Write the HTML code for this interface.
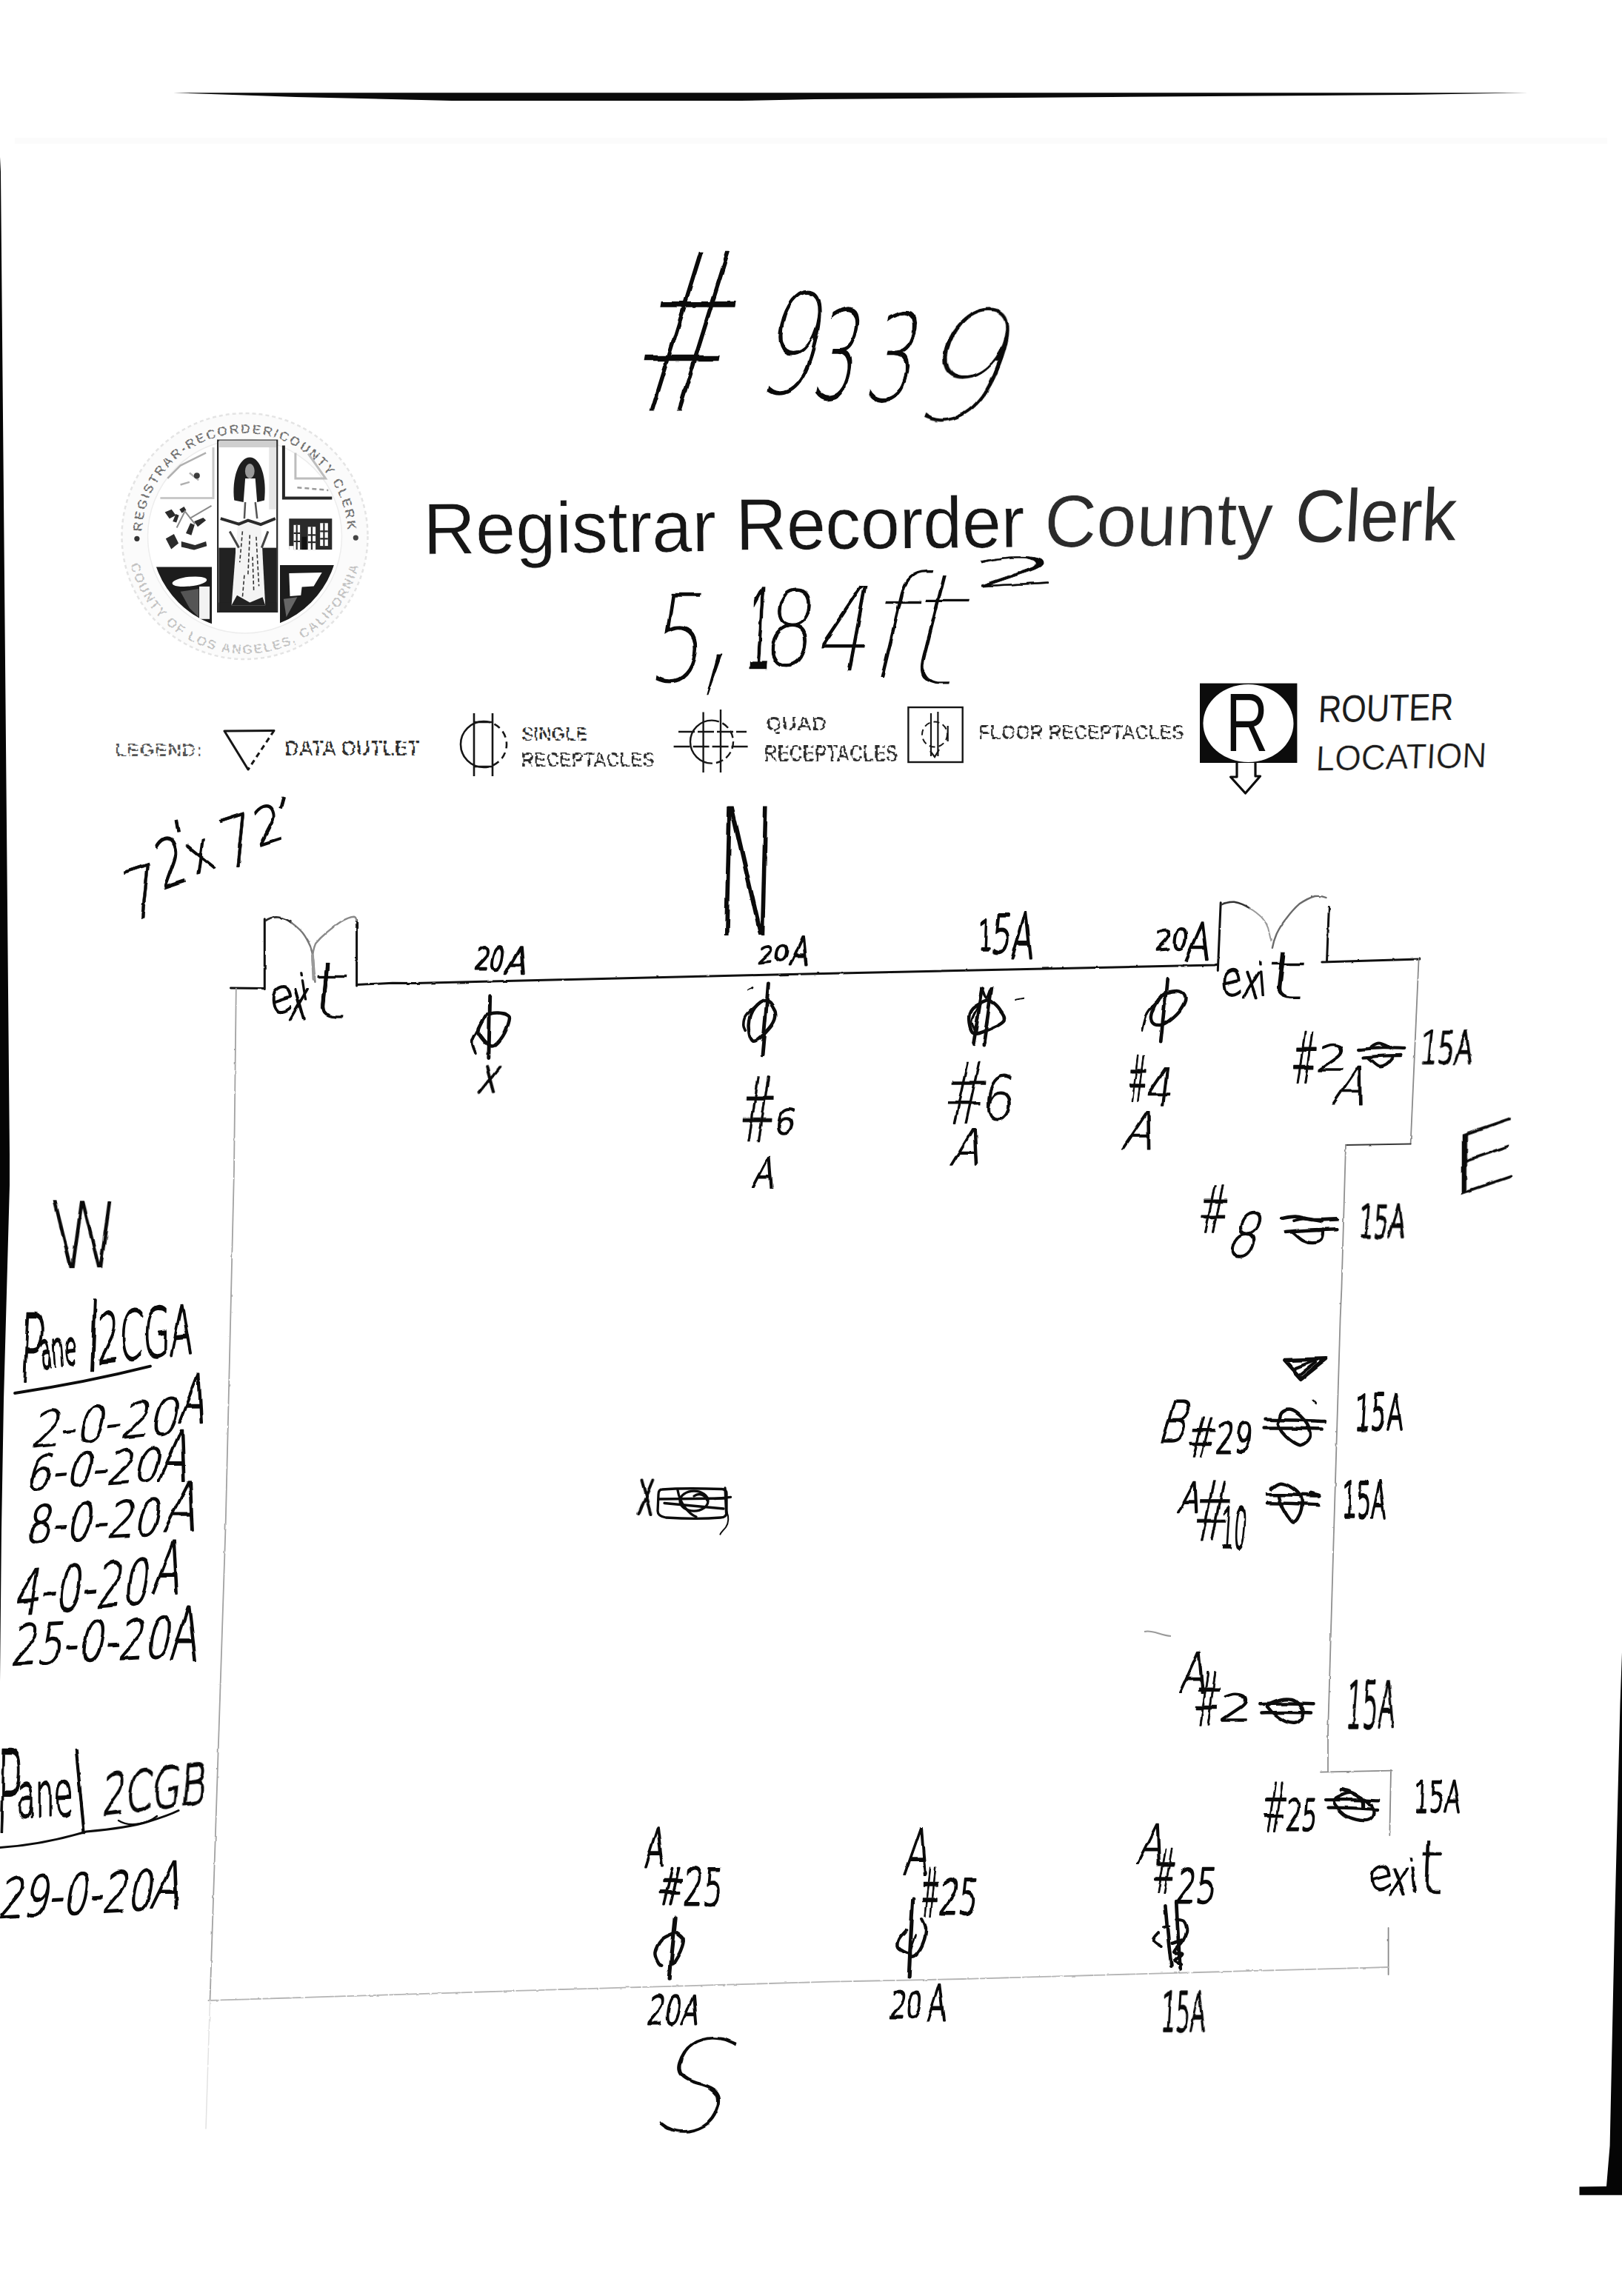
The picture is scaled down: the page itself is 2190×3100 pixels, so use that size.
<!DOCTYPE html>
<html lang="en">
<head>
<meta charset="utf-8">
<title>Registrar Recorder County Clerk - Floor Plan #9339</title>
<style>
html,body{margin:0;padding:0;background:#fff;}
body{width:2190px;height:3100px;overflow:hidden;}
svg{display:block;}
text{white-space:pre;}
</style>
</head>
<body>
<svg width="2190" height="3100" viewBox="0 0 2190 3100">
<rect x="0" y="0" width="2190" height="3100" fill="#ffffff"/>
<defs>
<filter id="wobble" filterUnits="userSpaceOnUse" x="0" y="0" width="2190" height="3100" color-interpolation-filters="sRGB"><feTurbulence type="fractalNoise" baseFrequency="0.035" numOctaves="2" seed="7" result="n"/><feDisplacementMap in="SourceGraphic" in2="n" scale="5" xChannelSelector="R" yChannelSelector="G"/></filter>
<filter id="pencil" filterUnits="userSpaceOnUse" x="0" y="0" width="2190" height="3100" color-interpolation-filters="sRGB"><feTurbulence type="fractalNoise" baseFrequency="0.09" numOctaves="2" seed="3" result="n"/><feDisplacementMap in="SourceGraphic" in2="n" scale="2.2" xChannelSelector="R" yChannelSelector="G"/></filter>
</defs>
<g id="scan-frame">
<path d="M234 125.2 L2063 125.2 L1900 128 L1500 131 L1100 134 L1000 136 L610 136 L400 131 L300 127.5 Z" fill="#0b0b0b"/>
<rect x="20" y="186" width="2150" height="8" fill="#fbfbfb"/>
<path d="M0 212 L1 232 L7.5 950 L13 1560 L13 1600 L5 1890 L2 2065 L0 2270 Z" fill="#050505"/>
<path d="M2190 2231 L2187.5 2300 L2180 2600 L2173.6 2897 L2169 2952 L2132.5 2952.6 L2132.5 2963.8 L2190 2963.8 Z" fill="#050505"/>
</g>
<g id="county-seal">
<circle cx="330.5" cy="724.0" r="166" fill="#fbfbfb" stroke="#e4e4e4" stroke-width="2.5" stroke-dasharray="5 4"/>
<circle cx="330.5" cy="724.0" r="131" fill="#ffffff" stroke="#ededed" stroke-width="1.5"/>
<defs><path id="sealTop" d="M191.5 724.0 A139.0 139.0 0 0 1 469.5 724.0"/><path id="sealBot" d="M171.5 724.0 A159 159 0 0 0 489.5 724.0"/></defs>
<text font-family="Liberation Sans, sans-serif" font-weight="700" font-size="17.5" fill="#4a4a4a" letter-spacing="2.3" opacity="0.78" stroke="#fff" stroke-width="1.1" stroke-dasharray="3 4 1.5 5"><textPath href="#sealTop" startOffset="50%" text-anchor="middle">REGISTRAR-RECORDER/COUNTY CLERK</textPath></text>
<text font-family="Liberation Sans, sans-serif" font-weight="700" font-size="17.5" fill="#b3b3b3" letter-spacing="2.2" opacity="0.8" stroke="#fff" stroke-width="1.1" stroke-dasharray="3 4 1.5 5"><textPath href="#sealBot" startOffset="50%" text-anchor="middle">COUNTY OF LOS ANGELES, CALIFORNIA</textPath></text>
<circle cx="184.9" cy="727.3" r="3.6" fill="#333"/>
<circle cx="480.3" cy="726.1" r="3.6" fill="#444"/>
<clipPath id="sealDisc"><circle cx="330.5" cy="724.0" r="126.5"/></clipPath>
<g clip-path="url(#sealDisc)">
<rect x="201.7" y="765.5" width="84.3" height="85.1" fill="#1c1c1c"/>
<rect x="378.0" y="763.0" width="82.6" height="87.5" fill="#1c1c1c"/>
</g>
<ellipse cx="255.9" cy="785.2" rx="23.4" ry="6.4" fill="#fff" transform="rotate(-6 255.9 785.2)"/>
<rect x="269.0" y="791.9" width="14.1" height="43.9" fill="#f2f2f2"/>
<polygon points="243.6,798.8 268.2,795.1 268.2,833.3 255.9,821.0" fill="#555"/>
<polygon points="390.3,774.1 434.7,772.9 423.6,791.4 407.6,792.6 406.3,803.7 391.5,805.0" fill="#fff"/>
<polygon points="382.9,808.7 401.4,806.2 386.6,833.3" fill="#666"/>
<rect x="294.1" y="594.6" width="80.1" height="231.3" fill="#fff" stroke="#2a2a2a" stroke-width="2.2"/>
<rect x="295.9" y="594.6" width="77.2" height="9.4" fill="#cfcfcf"/>
<rect x="363.2" y="604.0" width="9.9" height="83.8" fill="#e6e6e6"/>
<rect x="295.4" y="739.6" width="22.7" height="86.3" fill="#222"/>
<rect x="354.1" y="739.6" width="19.2" height="86.3" fill="#222"/>
<rect x="295.4" y="813.6" width="77.9" height="12.3" fill="#222"/>
<polygon points="321.3,702.6 352.1,702.6 358.2,817.3 312.6,817.3" fill="#f4f4f4"/>
<g stroke="#333" stroke-width="1.6" fill="none"><path d="M327.4 717.4 L323.7 759.3 M337.3 722.4 L334.8 776.6 M345.9 724.8 L349.6 791.4 M329.9 776.6 L327.4 806.2 M341.0 751.9 L342.7 798.8" stroke-dasharray="5 3"/></g>
<polygon points="312.6,817.3 358.2,817.3 354.5,806.2 337.3,813.6 320.0,803.7" fill="#222"/>
<path d="M297.8 700.2 L322.5 707.6 L334.8 702.6 L352.1 708.1 L371.8 700.2" stroke="#2a2a2a" stroke-width="4" fill="none"/>
<path d="M310.2 717.4 L322.5 739.6 M361.9 717.4 L353.3 739.6" stroke="#444" stroke-width="3" fill="none"/>
<path d="M316.3 675.5 C312.6 645.9 322.5 617.5 337.3 617.5 C352.1 617.5 360.7 645.9 357.0 675.5 L347.2 678.0 L344.7 645.9 L331.1 645.9 L328.7 678.0 Z" fill="#1e1e1e"/>
<ellipse cx="337.3" cy="636.0" rx="6.4" ry="9.9" fill="#9a9a9a"/>
<path d="M331.1 678.0 L329.9 700.2 M344.7 678.0 L347.2 700.2" stroke="#555" stroke-width="2.5"/>
<path d="M382.9 601.5 L382.9 672.5 L448.3 672.5" stroke="#262626" stroke-width="4" fill="none"/>
<path d="M398.9 611.4 L398.9 645.9 L439.6 645.9 L416.2 612.6" stroke="#bdbdbd" stroke-width="3" fill="none"/>
<path d="M401.4 658.2 L443.3 661.9" stroke="#9b9b9b" stroke-width="2.5" stroke-dasharray="6 4"/>
<path d="M216.4 672.5 L288.0 672.5 L288.0 604.0" stroke="#c9c9c9" stroke-width="3" fill="none"/>
<path d="M243.6 654.5 L255.9 650.8 M255.9 638.5 L268.2 648.4 M226.3 645.9 L243.6 628.6 L278.1 611.4" stroke="#8e8e8e" stroke-width="2.4" fill="none" opacity="0.7"/>
<circle cx="265.8" cy="642.2" r="4" fill="#3b3b3b"/>
<polygon points="222.6,691.5 231.7,687.8 237.4,695.7 228.8,700.2" fill="#2b2b2b"/>
<polygon points="223.8,727.3 234.9,721.1 241.1,733.5 231.2,741.6" fill="#2b2b2b"/>
<polygon points="244.8,731.0 263.3,735.9 278.1,731.0 279.3,737.2 262.1,742.6 244.8,738.4" fill="#2b2b2b"/>
<polygon points="251.0,719.9 257.1,706.3 262.8,708.8 258.4,722.8" fill="#2b2b2b"/>
<polygon points="262.1,703.9 274.4,698.9 278.1,702.6 267.0,711.3" fill="#2b2b2b"/>
<polygon points="233.2,703.9 237.4,694.0 241.6,695.7 238.2,705.6" fill="#2b2b2b"/>
<polygon points="242.3,687.8 248.5,684.1 251.5,689.1 245.5,692.8" fill="#2b2b2b"/>
<path d="M238.6 712.5 L249.7 690.3 L263.3 707.6 M255.9 700.2 L285.5 682.9" stroke="#8a8a8a" stroke-width="2" fill="none"/>
<rect x="390.3" y="700.2" width="58.0" height="41.9" fill="#2a2a2a"/>
<rect x="396.5" y="708.8" width="8.6" height="33.3" fill="#fff"/>
<rect x="415.7" y="711.3" width="10.4" height="30.8" fill="#fff"/>
<rect x="432.2" y="706.3" width="10.6" height="30.8" fill="#fff"/>
<rect x="407.6" y="724.8" width="6.7" height="17.3" fill="#111"/>
<g stroke="#2a2a2a" stroke-width="2.2"><path d="M396.5 719.9 H405.1 M396.5 731.0 H405.1 M415.7 722.4 H426.1 M415.7 732.2 H426.1 M432.2 717.4 H442.8 M432.2 727.3 H442.8 M400.7 708.8 V742.1 M420.9 711.3 V742.1 M437.4 706.3 V737.2"/></g>
<rect x="390.3" y="737.2" width="6.2" height="7.4" fill="#fff"/>
</g>
<g id="heading">
<g id="job-number" filter="url(#wobble)">
<text transform="translate(843.7,556.5) scale(1.641,3.049) skewX(-18)" font-family="DejaVu Sans Light, DejaVu Sans, sans-serif" font-weight="200" font-size="100" fill="#0a0a0a" stroke="#fff" stroke-width="3.29" vector-effect="non-scaling-stroke">#</text>
<text transform="translate(1018.3,532.1) scale(1.246,1.907) skewX(-20)" font-family="DejaVu Sans Light, DejaVu Sans, sans-serif" font-weight="200" font-size="100" fill="#0a0a0a" stroke="#fff" stroke-width="1.60" vector-effect="non-scaling-stroke">9</text>
<text transform="translate(1092.5,539.3) scale(0.912,1.682) skewX(-20)" font-family="DejaVu Sans Light, DejaVu Sans, sans-serif" font-weight="200" font-size="100" fill="#0a0a0a">3</text>
<text transform="translate(1163.5,541.3) scale(1.022,1.656) skewX(-20)" font-family="DejaVu Sans Light, DejaVu Sans, sans-serif" font-weight="200" font-size="100" fill="#0a0a0a" stroke="#fff" stroke-width="0.60" vector-effect="non-scaling-stroke">3</text>
<text transform="translate(1217.1,568.9) scale(1.953,2.079) skewX(-22)" font-family="DejaVu Sans Light, DejaVu Sans, sans-serif" font-weight="200" font-size="100" fill="#0a0a0a" stroke="#fff" stroke-width="3.99" vector-effect="non-scaling-stroke">9</text>
</g>
<g id="title">
<text transform="translate(571.8,748.2) rotate(-0.55) scale(0.975,0.984)" font-family="Liberation Sans, sans-serif" font-size="100" fill="#161616" stroke="#fff" stroke-width="0.68" vector-effect="non-scaling-stroke">Registrar</text>
<text transform="translate(993.7,742.4) rotate(-0.55) scale(0.948,0.986)" font-family="Liberation Sans, sans-serif" font-size="100" fill="#161616" stroke="#fff" stroke-width="0.44" vector-effect="non-scaling-stroke">Recorder</text>
<text transform="translate(1408.9,738.7) rotate(-0.7) scale(0.974,1.002) skewX(-3)" font-family="Liberation Sans, sans-serif" font-size="100" fill="#2b2b2b" stroke="#fff" stroke-width="0.67" vector-effect="non-scaling-stroke">County</text>
<text transform="translate(1747.2,731.9) rotate(-0.7) scale(0.933,1.001) skewX(-4)" font-family="Liberation Sans, sans-serif" font-size="100" fill="#2b2b2b">Clerk</text>
</g>
<g id="area" filter="url(#wobble)">
<text transform="translate(872.7,921.3) scale(1.188,1.662) skewX(-12)" font-family="DejaVu Sans Light, DejaVu Sans, sans-serif" font-weight="200" font-size="100" fill="#0a0a0a" stroke="#fff" stroke-width="1.35" vector-effect="non-scaling-stroke">5</text>
<text transform="translate(929.1,901.2) scale(2.442,3.529) skewX(-15)" font-family="DejaVu Sans Light, DejaVu Sans, sans-serif" font-weight="200" font-size="100" fill="#0a0a0a" stroke="#fff" stroke-width="6.99" vector-effect="non-scaling-stroke">,</text>
<text transform="translate(1006.7,903.8) scale(0.565,1.650) skewX(-10)" font-family="Liberation Sans, sans-serif" font-size="100" fill="#0a0a0a" stroke="#fff" stroke-width="0.97" vector-effect="non-scaling-stroke">1</text>
<text transform="translate(1027.7,898.6) scale(1.076,1.417) skewX(-10)" font-family="DejaVu Sans Light, DejaVu Sans, sans-serif" font-weight="200" font-size="100" fill="#0a0a0a" stroke="#fff" stroke-width="0.84" vector-effect="non-scaling-stroke">8</text>
<text transform="translate(1096.1,905.8) scale(1.187,1.586) skewX(-14)" font-family="DejaVu Sans Light, DejaVu Sans, sans-serif" font-weight="200" font-size="100" fill="#0a0a0a" stroke="#fff" stroke-width="1.34" vector-effect="non-scaling-stroke">4</text>
<text transform="translate(1161.3,917.0) scale(1.885,1.960) skewX(-14)" font-family="DejaVu Sans Light, DejaVu Sans, sans-serif" font-weight="200" font-size="100" fill="#0a0a0a" stroke="#fff" stroke-width="3.98" vector-effect="non-scaling-stroke">f</text>
<text transform="translate(1207.3,926.1) scale(2.200,2.171) skewX(-14)" font-family="DejaVu Sans Light, DejaVu Sans, sans-serif" font-weight="200" font-size="100" fill="#0a0a0a" stroke="#fff" stroke-width="5.27" vector-effect="non-scaling-stroke">t</text>
<text transform="translate(1312.8,793.0) rotate(-3) scale(1.913,0.522)" font-family="DejaVu Sans Light, DejaVu Sans, sans-serif" font-weight="200" font-size="100" fill="#0a0a0a" stroke="#0a0a0a" stroke-width="1.45" stroke-linejoin="round" vector-effect="non-scaling-stroke">2</text>
</g>
</g>
<g id="legend">
<text transform="translate(155.3,1021.4) scale(0.261,0.234)" font-family="Liberation Sans, sans-serif" font-weight="700" font-size="100" fill="#555" stroke="#fff" stroke-width="3.0" stroke-dasharray="4 9 2 12 7 8" vector-effect="non-scaling-stroke">LEGEND:</text>
<path d="M303 987 L370 986.4 M303 987 L335 1039" stroke="#161616" stroke-width="3" stroke-linecap="round" fill="none"/>
<path d="M370 986.4 L335 1039" stroke="#161616" stroke-width="3" stroke-dasharray="7 5" fill="none"/>
<text transform="translate(384.3,1019.9) scale(0.265,0.298)" font-family="Liberation Sans, sans-serif" font-weight="700" font-size="100" fill="#2e2e2e" stroke="#fff" stroke-width="3.0" stroke-dasharray="4 9 2 12 7 8" vector-effect="non-scaling-stroke">DATA OUTLET</text>
<g stroke="#161616" stroke-width="2.6" fill="none">
<path d="M653 974 A31 31 0 0 0 653 1036"/>
<path d="M653 974 A31 31 0 0 1 653 1036" stroke-dasharray="9 6"/>
<path d="M640 963 V1048 M665 963 V1048 M640 1035 H665 M640 975 H665"/>
</g>
<text transform="translate(704.3,999.9) scale(0.241,0.261)" font-family="Liberation Sans, sans-serif" font-weight="700" font-size="100" fill="#2e2e2e" stroke="#fff" stroke-width="3.0" stroke-dasharray="4 9 2 12 7 8" vector-effect="non-scaling-stroke">SINGLE</text>
<text transform="translate(703.4,1034.9) scale(0.245,0.284)" font-family="Liberation Sans, sans-serif" font-weight="700" font-size="100" fill="#2e2e2e" stroke="#fff" stroke-width="3.0" stroke-dasharray="4 9 2 12 7 8" vector-effect="non-scaling-stroke">RECEPTACLES</text>
<g stroke="#161616" stroke-width="2.4" fill="none">
<path d="M961 972.6 A29 29 0 0 0 961 1030.6"/>
<path d="M961 972.6 A29 29 0 0 1 961 1030.6" stroke-dasharray="10 5"/>
<path d="M949.6 961.6 V1043 M973 958 V1043"/>
<path d="M916 988 H1008 M909.6 1008 H1011" stroke-dasharray="22 4"/>
</g>
<text transform="translate(1033.9,986.1) scale(0.280,0.258)" font-family="Liberation Sans, sans-serif" font-weight="700" font-size="100" fill="#2e2e2e" stroke="#fff" stroke-width="3.0" stroke-dasharray="4 9 2 12 7 8" vector-effect="non-scaling-stroke">QUAD</text>
<text transform="translate(1031.4,1027.8) scale(0.246,0.305)" font-family="Liberation Sans, sans-serif" font-weight="700" font-size="100" fill="#2e2e2e" stroke="#fff" stroke-width="3.0" stroke-dasharray="4 9 2 12 7 8" vector-effect="non-scaling-stroke">RECEPTACLES</text>
<g stroke="#161616" fill="none">
<rect x="1226.4" y="955" width="73.3" height="74" stroke-width="2.4"/>
<circle cx="1262" cy="991.6" r="17" stroke-width="2" stroke-dasharray="8 5"/>
<path d="M1257 963 V1021 M1266.4 961 V1021 M1279.7 980 V1001" stroke-width="2.2"/>
<path d="M1256 1014 L1262 1022 L1268 1012" stroke-width="2.2"/>
</g>
<text transform="translate(1321.4,997.9) scale(0.249,0.284)" font-family="Liberation Sans, sans-serif" font-weight="700" font-size="100" fill="#2e2e2e" stroke="#fff" stroke-width="3.0" stroke-dasharray="4 9 2 12 7 8" vector-effect="non-scaling-stroke">FLOOR RECEPTACLES</text>
<g id="router-icon">
<rect x="1620" y="922.6" width="131.4" height="107.4" fill="#0c0c0c"/>
<ellipse cx="1685.5" cy="976.5" rx="61" ry="52.5" fill="#fff"/>
<path d="M1670 1030 V1049 H1661.5 L1681.5 1071 L1701.5 1048 H1695 V1030" fill="#fff" stroke="#0c0c0c" stroke-width="3.2" stroke-linejoin="round"/>
<text transform="translate(1655.2,1013.6) scale(0.788,1.115)" font-family="Liberation Sans, sans-serif" font-size="100" fill="#0c0c0c">R</text>
</g>
<text transform="translate(1779.4,975.3) rotate(-1.1) scale(0.432,0.513) skewX(-4)" font-family="Liberation Sans, sans-serif" font-size="100" fill="#1c1c1c">ROUTER</text>
<text transform="translate(1776.0,1040.4) rotate(-1.1) scale(0.458,0.478) skewX(-4)" font-family="Liberation Sans, sans-serif" font-size="100" fill="#1c1c1c" stroke="#fff" stroke-width="0.43" vector-effect="non-scaling-stroke">LOCATION</text>
</g>
<g id="handwritten-labels" filter="url(#wobble)">
<g id="dimension-note">
<text transform="translate(174.3,1245.7) rotate(-18) scale(0.799,0.940) skewX(-8)" font-family="DejaVu Sans Light, DejaVu Sans, sans-serif" font-weight="200" font-size="100" fill="#0a0a0a" stroke="#0a0a0a" stroke-width="0.60" stroke-linejoin="round" vector-effect="non-scaling-stroke">7</text>
<text transform="translate(218.3,1201.8) rotate(-18) scale(0.629,0.898) skewX(-8)" font-family="DejaVu Sans Light, DejaVu Sans, sans-serif" font-weight="200" font-size="100" fill="#0a0a0a" stroke="#0a0a0a" stroke-width="1.37" stroke-linejoin="round" vector-effect="non-scaling-stroke">2</text>
<text transform="translate(235.3,1152.5) rotate(-10) scale(0.752,0.591)" font-family="DejaVu Sans Light, DejaVu Sans, sans-serif" font-weight="200" font-size="100" fill="#0a0a0a" stroke="#0a0a0a" stroke-width="0.94" stroke-linejoin="round" vector-effect="non-scaling-stroke">'</text>
<text transform="translate(263.1,1183.0) rotate(-22) scale(0.577,0.770)" font-family="DejaVu Sans Light, DejaVu Sans, sans-serif" font-weight="200" font-size="100" fill="#0a0a0a" stroke="#0a0a0a" stroke-width="1.60" stroke-linejoin="round" vector-effect="non-scaling-stroke">x</text>
<text transform="translate(302.9,1175.5) rotate(-18) scale(0.782,0.920) skewX(-8)" font-family="DejaVu Sans Light, DejaVu Sans, sans-serif" font-weight="200" font-size="100" fill="#0a0a0a" stroke="#0a0a0a" stroke-width="0.68" stroke-linejoin="round" vector-effect="non-scaling-stroke">7</text>
<text transform="translate(348.0,1143.3) rotate(-18) scale(0.615,0.683) skewX(-8)" font-family="DejaVu Sans Light, DejaVu Sans, sans-serif" font-weight="200" font-size="100" fill="#0a0a0a" stroke="#0a0a0a" stroke-width="1.43" stroke-linejoin="round" vector-effect="non-scaling-stroke">2</text>
<text transform="translate(362.5,1113.1) rotate(15) scale(0.733,0.556)" font-family="DejaVu Sans Light, DejaVu Sans, sans-serif" font-weight="200" font-size="100" fill="#0a0a0a" stroke="#0a0a0a" stroke-width="1.10" stroke-linejoin="round" vector-effect="non-scaling-stroke">'</text>
</g>
<text transform="translate(964.0,1262.7) scale(1.146,2.393) skewX(-3)" font-family="DejaVu Sans Light, DejaVu Sans, sans-serif" font-weight="200" font-size="100" fill="#0a0a0a">N</text>
<text transform="translate(1953.6,1620.3) rotate(-19) scale(1.712,1.071) skewX(-12.2)" font-family="DejaVu Sans Light, DejaVu Sans, sans-serif" font-weight="200" font-size="100" fill="#0a0a0a" stroke="#fff" stroke-width="0.62" vector-effect="non-scaling-stroke">E</text>
<text transform="translate(869.6,2879.2) scale(1.684,1.762) skewX(-18)" font-family="DejaVu Sans Light, DejaVu Sans, sans-serif" font-weight="200" font-size="100" fill="#0a0a0a" stroke="#fff" stroke-width="3.38" vector-effect="non-scaling-stroke">S</text>
<text transform="translate(69.8,1712.1) scale(0.955,1.240) skewX(4)" font-family="DejaVu Sans Light, DejaVu Sans, sans-serif" font-weight="200" font-size="100" fill="#0a0a0a">W</text>
<text transform="translate(366.0,1371.5) rotate(-18) scale(0.564,0.594) skewX(-10)" font-family="DejaVu Sans Light, DejaVu Sans, sans-serif" font-weight="200" font-size="100" fill="#0a0a0a" stroke="#0a0a0a" stroke-width="1.66" stroke-linejoin="round" vector-effect="non-scaling-stroke">e</text>
<text transform="translate(388.2,1376.4) scale(0.424,0.741) skewX(-14)" font-family="DejaVu Sans Light, DejaVu Sans, sans-serif" font-weight="200" font-size="100" fill="#0a0a0a" stroke="#0a0a0a" stroke-width="2.29" stroke-linejoin="round" vector-effect="non-scaling-stroke">x</text>
<text transform="translate(408.4,1350.2) scale(0.300,0.477) skewX(14)" font-family="DejaVu Sans Light, DejaVu Sans, sans-serif" font-weight="200" font-size="100" fill="#0a0a0a" stroke="#0a0a0a" stroke-width="2.65" stroke-linejoin="round" vector-effect="non-scaling-stroke">i</text>
<text transform="translate(416.2,1374.5) scale(1.369,1.071) skewX(-4)" font-family="DejaVu Sans Light, DejaVu Sans, sans-serif" font-weight="200" font-size="100" fill="#0a0a0a" stroke="#fff" stroke-width="0.62" vector-effect="non-scaling-stroke">t</text>
<text transform="translate(1649.8,1347.2) rotate(-12) scale(0.496,0.620) skewX(-10)" font-family="DejaVu Sans Light, DejaVu Sans, sans-serif" font-weight="200" font-size="100" fill="#0a0a0a" stroke="#0a0a0a" stroke-width="1.77" stroke-linejoin="round" vector-effect="non-scaling-stroke">e</text>
<text transform="translate(1675.6,1347.0) scale(0.398,0.637) skewX(-12)" font-family="DejaVu Sans Light, DejaVu Sans, sans-serif" font-weight="200" font-size="100" fill="#0a0a0a" stroke="#0a0a0a" stroke-width="2.21" stroke-linejoin="round" vector-effect="non-scaling-stroke">x</text>
<text transform="translate(1699.2,1343.3) scale(0.442,0.596) skewX(6)" font-family="DejaVu Sans Light, DejaVu Sans, sans-serif" font-weight="200" font-size="100" fill="#0a0a0a" stroke="#0a0a0a" stroke-width="1.81" stroke-linejoin="round" vector-effect="non-scaling-stroke">i</text>
<text transform="translate(1705.5,1349.0) scale(1.441,0.900) skewX(-4)" font-family="DejaVu Sans Light, DejaVu Sans, sans-serif" font-weight="200" font-size="100" fill="#0a0a0a">t</text>
<text transform="translate(1849.3,2555.3) rotate(-15) scale(0.565,0.565) skewX(-8)" font-family="DejaVu Sans Light, DejaVu Sans, sans-serif" font-weight="200" font-size="100" fill="#0a0a0a" stroke="#0a0a0a" stroke-width="1.66" stroke-linejoin="round" vector-effect="non-scaling-stroke">e</text>
<text transform="translate(1874.0,2557.9) scale(0.425,0.641) skewX(-10)" font-family="DejaVu Sans Light, DejaVu Sans, sans-serif" font-weight="200" font-size="100" fill="#0a0a0a" stroke="#0a0a0a" stroke-width="2.29" stroke-linejoin="round" vector-effect="non-scaling-stroke">x</text>
<text transform="translate(1901.7,2554.0) scale(0.603,0.605) skewX(6)" font-family="DejaVu Sans Light, DejaVu Sans, sans-serif" font-weight="200" font-size="100" fill="#0a0a0a" stroke="#0a0a0a" stroke-width="1.49" stroke-linejoin="round" vector-effect="non-scaling-stroke">i</text>
<text transform="translate(1914.6,2555.7) scale(0.837,1.003) skewX(-3)" font-family="DejaVu Sans Light, DejaVu Sans, sans-serif" font-weight="200" font-size="100" fill="#0a0a0a" stroke="#0a0a0a" stroke-width="0.63" stroke-linejoin="round" vector-effect="non-scaling-stroke">t</text>
<text transform="translate(639.8,1308.6) scale(0.310,0.411) skewX(-14)" font-family="DejaVu Sans Light, DejaVu Sans, sans-serif" font-weight="200" font-size="100" fill="#0a0a0a" stroke="#0a0a0a" stroke-width="2.80" stroke-linejoin="round" vector-effect="non-scaling-stroke">20</text>
<text transform="translate(679.6,1314.6) scale(0.433,0.501) skewX(-16)" font-family="DejaVu Sans Light, DejaVu Sans, sans-serif" font-weight="200" font-size="100" fill="#0a0a0a" stroke="#0a0a0a" stroke-width="2.45" stroke-linejoin="round" vector-effect="non-scaling-stroke">A</text>
<text transform="translate(1023.7,1300.4) rotate(-6) scale(0.322,0.292) skewX(-12)" font-family="DejaVu Sans Light, DejaVu Sans, sans-serif" font-weight="200" font-size="100" fill="#0a0a0a" stroke="#0a0a0a" stroke-width="2.69" stroke-linejoin="round" vector-effect="non-scaling-stroke">20</text>
<text transform="translate(1064.8,1303.3) scale(0.380,0.527) skewX(-14)" font-family="DejaVu Sans Light, DejaVu Sans, sans-serif" font-weight="200" font-size="100" fill="#0a0a0a" stroke="#0a0a0a" stroke-width="2.69" stroke-linejoin="round" vector-effect="non-scaling-stroke">A</text>
<text transform="translate(1319.9,1282.3) scale(0.302,0.552) skewX(-4)" font-family="DejaVu Sans Light, DejaVu Sans, sans-serif" font-weight="200" font-size="100" fill="#0a0a0a" stroke="#0a0a0a" stroke-width="2.84" stroke-linejoin="round" vector-effect="non-scaling-stroke">1</text>
<text transform="translate(1336.7,1287.0) scale(0.423,0.720) skewX(-10)" font-family="DejaVu Sans Light, DejaVu Sans, sans-serif" font-weight="200" font-size="100" fill="#0a0a0a" stroke="#0a0a0a" stroke-width="2.30" stroke-linejoin="round" vector-effect="non-scaling-stroke">5</text>
<text transform="translate(1364.1,1294.4) scale(0.447,0.869) skewX(-10)" font-family="DejaVu Sans Light, DejaVu Sans, sans-serif" font-weight="200" font-size="100" fill="#0a0a0a" stroke="#0a0a0a" stroke-width="2.59" stroke-linejoin="round" vector-effect="non-scaling-stroke">A</text>
<text transform="translate(1559.5,1283.6) rotate(-4) scale(0.348,0.372) skewX(-10)" font-family="DejaVu Sans Light, DejaVu Sans, sans-serif" font-weight="200" font-size="100" fill="#0a0a0a" stroke="#0a0a0a" stroke-width="2.63" stroke-linejoin="round" vector-effect="non-scaling-stroke">20</text>
<text transform="translate(1598.0,1297.0) scale(0.505,0.705) skewX(-12)" font-family="DejaVu Sans Light, DejaVu Sans, sans-serif" font-weight="200" font-size="100" fill="#0a0a0a" stroke="#0a0a0a" stroke-width="2.33" stroke-linejoin="round" vector-effect="non-scaling-stroke">A</text>
<text transform="translate(644.4,1474.7) scale(0.364,0.462) skewX(-18)" font-family="DejaVu Sans Light, DejaVu Sans, sans-serif" font-weight="200" font-size="100" fill="#0a0a0a" stroke="#0a0a0a" stroke-width="2.56" stroke-linejoin="round" vector-effect="non-scaling-stroke">X</text>
<text transform="translate(997.5,1541.6) scale(0.608,1.231) skewX(-3)" font-family="DejaVu Sans Light, DejaVu Sans, sans-serif" font-weight="200" font-size="100" fill="#0a0a0a" stroke="#0a0a0a" stroke-width="0.56" stroke-linejoin="round" vector-effect="non-scaling-stroke">#</text>
<text transform="translate(1043.5,1531.0) scale(0.449,0.470) skewX(-10)" font-family="DejaVu Sans Light, DejaVu Sans, sans-serif" font-weight="200" font-size="100" fill="#0a0a0a" stroke="#0a0a0a" stroke-width="2.18" stroke-linejoin="round" vector-effect="non-scaling-stroke">6</text>
<text transform="translate(1014.6,1603.0) scale(0.433,0.552) skewX(-16)" font-family="DejaVu Sans Light, DejaVu Sans, sans-serif" font-weight="200" font-size="100" fill="#0a0a0a" stroke="#0a0a0a" stroke-width="2.05" stroke-linejoin="round" vector-effect="non-scaling-stroke">A</text>
<text transform="translate(1272.8,1516.6) scale(0.709,1.161) skewX(-6)" font-family="DejaVu Sans Light, DejaVu Sans, sans-serif" font-weight="200" font-size="100" fill="#0a0a0a">#</text>
<text transform="translate(1323.4,1512.2) scale(0.698,0.821) skewX(-8)" font-family="DejaVu Sans Light, DejaVu Sans, sans-serif" font-weight="200" font-size="100" fill="#0a0a0a" stroke="#0a0a0a" stroke-width="0.86" stroke-linejoin="round" vector-effect="non-scaling-stroke">6</text>
<text transform="translate(1281.1,1573.3) scale(0.595,0.690) skewX(-18)" font-family="DejaVu Sans Light, DejaVu Sans, sans-serif" font-weight="200" font-size="100" fill="#0a0a0a" stroke="#0a0a0a" stroke-width="1.32" stroke-linejoin="round" vector-effect="non-scaling-stroke">A</text>
<text transform="translate(1521.6,1486.4) scale(0.339,0.839) skewX(-3)" font-family="DejaVu Sans Light, DejaVu Sans, sans-serif" font-weight="200" font-size="100" fill="#0a0a0a" stroke="#0a0a0a" stroke-width="1.58" stroke-linejoin="round" vector-effect="non-scaling-stroke">#</text>
<text transform="translate(1544.8,1493.3) scale(0.594,0.690) skewX(-8)" font-family="DejaVu Sans Light, DejaVu Sans, sans-serif" font-weight="200" font-size="100" fill="#0a0a0a" stroke="#0a0a0a" stroke-width="1.33" stroke-linejoin="round" vector-effect="non-scaling-stroke">4</text>
<text transform="translate(1512.5,1551.3) scale(0.620,0.690) skewX(-20)" font-family="DejaVu Sans Light, DejaVu Sans, sans-serif" font-weight="200" font-size="100" fill="#0a0a0a" stroke="#0a0a0a" stroke-width="1.21" stroke-linejoin="round" vector-effect="non-scaling-stroke">A</text>
<text transform="translate(1742.5,1463.5) scale(0.436,0.979) skewX(-4)" font-family="DejaVu Sans Light, DejaVu Sans, sans-serif" font-weight="200" font-size="100" fill="#0a0a0a" stroke="#0a0a0a" stroke-width="1.54" stroke-linejoin="round" vector-effect="non-scaling-stroke">#</text>
<text transform="translate(1776.8,1446.2) scale(0.646,0.491) skewX(-6)" font-family="DejaVu Sans Light, DejaVu Sans, sans-serif" font-weight="200" font-size="100" fill="#0a0a0a" stroke="#0a0a0a" stroke-width="1.79" stroke-linejoin="round" vector-effect="non-scaling-stroke">2</text>
<text transform="translate(1795.9,1491.4) scale(0.648,0.708) skewX(-20)" font-family="DejaVu Sans Light, DejaVu Sans, sans-serif" font-weight="200" font-size="100" fill="#0a0a0a" stroke="#0a0a0a" stroke-width="1.08" stroke-linejoin="round" vector-effect="non-scaling-stroke">A</text>
<text transform="translate(1915.5,1435.4) scale(0.367,0.608) skewX(-10)" font-family="DejaVu Sans Light, DejaVu Sans, sans-serif" font-weight="200" font-size="100" fill="#0a0a0a" stroke="#0a0a0a" stroke-width="2.35" stroke-linejoin="round" vector-effect="non-scaling-stroke">15A</text>
<text transform="translate(1616.7,1664.4) scale(0.494,0.881) skewX(-6)" font-family="DejaVu Sans Light, DejaVu Sans, sans-serif" font-weight="200" font-size="100" fill="#0a0a0a" stroke="#0a0a0a" stroke-width="1.08" stroke-linejoin="round" vector-effect="non-scaling-stroke">#</text>
<text transform="translate(1653.4,1696.9) scale(0.629,0.817) skewX(-22)" font-family="DejaVu Sans Light, DejaVu Sans, sans-serif" font-weight="200" font-size="100" fill="#0a0a0a" stroke="#0a0a0a" stroke-width="1.17" stroke-linejoin="round" vector-effect="non-scaling-stroke">8</text>
<text transform="translate(1833.2,1670.4) scale(0.320,0.608) skewX(-8)" font-family="DejaVu Sans Light, DejaVu Sans, sans-serif" font-weight="200" font-size="100" fill="#0a0a0a" stroke="#0a0a0a" stroke-width="2.56" stroke-linejoin="round" vector-effect="non-scaling-stroke">15A</text>
<text transform="translate(1560.7,1946.9) scale(0.576,0.779) skewX(-22)" font-family="DejaVu Sans Light, DejaVu Sans, sans-serif" font-weight="200" font-size="100" fill="#0a0a0a" stroke="#0a0a0a" stroke-width="1.41" stroke-linejoin="round" vector-effect="non-scaling-stroke">B</text>
<text transform="translate(1601.2,1966.8) scale(0.460,0.747) skewX(-10)" font-family="DejaVu Sans Light, DejaVu Sans, sans-serif" font-weight="200" font-size="100" fill="#0a0a0a" stroke="#0a0a0a" stroke-width="1.43" stroke-linejoin="round" vector-effect="non-scaling-stroke">#</text>
<text transform="translate(1640.3,1960.8) scale(0.379,0.551) skewX(-10)" font-family="DejaVu Sans Light, DejaVu Sans, sans-serif" font-weight="200" font-size="100" fill="#0a0a0a" stroke="#0a0a0a" stroke-width="2.50" stroke-linejoin="round" vector-effect="non-scaling-stroke">29</text>
<text transform="translate(1827.9,1930.8) scale(0.339,0.676) skewX(-6)" font-family="DejaVu Sans Light, DejaVu Sans, sans-serif" font-weight="200" font-size="100" fill="#0a0a0a" stroke="#0a0a0a" stroke-width="2.68" stroke-linejoin="round" vector-effect="non-scaling-stroke">15A</text>
<text transform="translate(1588.6,2043.3) scale(0.430,0.579) skewX(-18)" font-family="DejaVu Sans Light, DejaVu Sans, sans-serif" font-weight="200" font-size="100" fill="#0a0a0a" stroke="#0a0a0a" stroke-width="2.07" stroke-linejoin="round" vector-effect="non-scaling-stroke">A</text>
<text transform="translate(1608.7,2080.2) scale(0.635,1.117) skewX(-6)" font-family="DejaVu Sans Light, DejaVu Sans, sans-serif" font-weight="200" font-size="100" fill="#0a0a0a" stroke="#0a0a0a" stroke-width="0.64" stroke-linejoin="round" vector-effect="non-scaling-stroke">#</text>
<text transform="translate(1647.4,2090.2) scale(0.271,0.768) skewX(-10)" font-family="DejaVu Sans Light, DejaVu Sans, sans-serif" font-weight="200" font-size="100" fill="#0a0a0a" stroke="#0a0a0a" stroke-width="2.78" stroke-linejoin="round" vector-effect="non-scaling-stroke">10</text>
<text transform="translate(1811.3,2049.0) scale(0.311,0.676) skewX(-4)" font-family="DejaVu Sans Light, DejaVu Sans, sans-serif" font-weight="200" font-size="100" fill="#0a0a0a" stroke="#0a0a0a" stroke-width="2.80" stroke-linejoin="round" vector-effect="non-scaling-stroke">15A</text>
<text transform="translate(1589.9,2286.4) scale(0.542,0.759) skewX(-14)" font-family="DejaVu Sans Light, DejaVu Sans, sans-serif" font-weight="200" font-size="100" fill="#0a0a0a" stroke="#0a0a0a" stroke-width="1.56" stroke-linejoin="round" vector-effect="non-scaling-stroke">A</text>
<text transform="translate(1611.1,2329.5) scale(0.454,1.021) skewX(-3)" font-family="DejaVu Sans Light, DejaVu Sans, sans-serif" font-weight="200" font-size="100" fill="#0a0a0a" stroke="#0a0a0a" stroke-width="1.26" stroke-linejoin="round" vector-effect="non-scaling-stroke">#</text>
<text transform="translate(1645.1,2322.9) scale(0.703,0.496) skewX(-4)" font-family="DejaVu Sans Light, DejaVu Sans, sans-serif" font-weight="200" font-size="100" fill="#0a0a0a" stroke="#0a0a0a" stroke-width="1.77" stroke-linejoin="round" vector-effect="non-scaling-stroke">2</text>
<text transform="translate(1815.9,2331.8) scale(0.339,0.861) skewX(-10)" font-family="DejaVu Sans Light, DejaVu Sans, sans-serif" font-weight="200" font-size="100" fill="#0a0a0a" stroke="#0a0a0a" stroke-width="2.68" stroke-linejoin="round" vector-effect="non-scaling-stroke">15A</text>
<text transform="translate(1702.6,2473.5) scale(0.429,0.930) skewX(-4)" font-family="DejaVu Sans Light, DejaVu Sans, sans-serif" font-weight="200" font-size="100" fill="#0a0a0a" stroke="#0a0a0a" stroke-width="1.37" stroke-linejoin="round" vector-effect="non-scaling-stroke">#</text>
<text transform="translate(1735.2,2470.9) scale(0.327,0.576) skewX(-8)" font-family="DejaVu Sans Light, DejaVu Sans, sans-serif" font-weight="200" font-size="100" fill="#0a0a0a" stroke="#0a0a0a" stroke-width="2.53" stroke-linejoin="round" vector-effect="non-scaling-stroke">25</text>
<text transform="translate(1908.1,2445.9) scale(0.328,0.561) skewX(-4)" font-family="DejaVu Sans Light, DejaVu Sans, sans-serif" font-weight="200" font-size="100" fill="#0a0a0a" stroke="#0a0a0a" stroke-width="2.33" stroke-linejoin="round" vector-effect="non-scaling-stroke">15A</text>
<text transform="translate(868.7,2520.4) scale(0.406,0.717) skewX(-10)" font-family="DejaVu Sans Light, DejaVu Sans, sans-serif" font-weight="200" font-size="100" fill="#0a0a0a" stroke="#0a0a0a" stroke-width="2.37" stroke-linejoin="round" vector-effect="non-scaling-stroke">A</text>
<text transform="translate(887.1,2572.3) scale(0.412,0.682) skewX(-8)" font-family="DejaVu Sans Light, DejaVu Sans, sans-serif" font-weight="200" font-size="100" fill="#0a0a0a" stroke="#0a0a0a" stroke-width="2.35" stroke-linejoin="round" vector-effect="non-scaling-stroke">#25</text>
<text transform="translate(872.4,2732.5) scale(0.359,0.530) skewX(-14)" font-family="DejaVu Sans Light, DejaVu Sans, sans-serif" font-weight="200" font-size="100" fill="#0a0a0a" stroke="#0a0a0a" stroke-width="2.39" stroke-linejoin="round" vector-effect="non-scaling-stroke">20A</text>
<text transform="translate(1218.5,2531.9) scale(0.487,0.876) skewX(-14)" font-family="DejaVu Sans Light, DejaVu Sans, sans-serif" font-weight="200" font-size="100" fill="#0a0a0a" stroke="#0a0a0a" stroke-width="1.81" stroke-linejoin="round" vector-effect="non-scaling-stroke">A</text>
<text transform="translate(1242.4,2586.9) scale(0.319,0.908) skewX(-2)" font-family="DejaVu Sans Light, DejaVu Sans, sans-serif" font-weight="200" font-size="100" fill="#0a0a0a" stroke="#0a0a0a" stroke-width="1.86" stroke-linejoin="round" vector-effect="non-scaling-stroke">#</text>
<text transform="translate(1267.2,2584.2) scale(0.399,0.640) skewX(-10)" font-family="DejaVu Sans Light, DejaVu Sans, sans-serif" font-weight="200" font-size="100" fill="#0a0a0a" stroke="#0a0a0a" stroke-width="2.40" stroke-linejoin="round" vector-effect="non-scaling-stroke">25</text>
<text transform="translate(1200.6,2724.1) scale(0.332,0.485) skewX(-12)" font-family="DejaVu Sans Light, DejaVu Sans, sans-serif" font-weight="200" font-size="100" fill="#0a0a0a" stroke="#0a0a0a" stroke-width="2.51" stroke-linejoin="round" vector-effect="non-scaling-stroke">20</text>
<text transform="translate(1250.3,2728.3) scale(0.382,0.666) skewX(-10)" font-family="DejaVu Sans Light, DejaVu Sans, sans-serif" font-weight="200" font-size="100" fill="#0a0a0a" stroke="#0a0a0a" stroke-width="2.48" stroke-linejoin="round" vector-effect="non-scaling-stroke">A</text>
<text transform="translate(1532.9,2515.4) scale(0.511,0.717) skewX(-18)" font-family="DejaVu Sans Light, DejaVu Sans, sans-serif" font-weight="200" font-size="100" fill="#0a0a0a" stroke="#0a0a0a" stroke-width="1.70" stroke-linejoin="round" vector-effect="non-scaling-stroke">A</text>
<text transform="translate(1555.6,2556.9) scale(0.369,0.839) skewX(-8)" font-family="DejaVu Sans Light, DejaVu Sans, sans-serif" font-weight="200" font-size="100" fill="#0a0a0a" stroke="#0a0a0a" stroke-width="1.64" stroke-linejoin="round" vector-effect="non-scaling-stroke">#</text>
<text transform="translate(1586.5,2569.4) scale(0.415,0.642) skewX(-10)" font-family="DejaVu Sans Light, DejaVu Sans, sans-serif" font-weight="200" font-size="100" fill="#0a0a0a" stroke="#0a0a0a" stroke-width="2.33" stroke-linejoin="round" vector-effect="non-scaling-stroke">25</text>
<text transform="translate(1566.3,2742.3) scale(0.311,0.722) skewX(-8)" font-family="DejaVu Sans Light, DejaVu Sans, sans-serif" font-weight="200" font-size="100" fill="#0a0a0a" stroke="#0a0a0a" stroke-width="2.60" stroke-linejoin="round" vector-effect="non-scaling-stroke">15A</text>
<text transform="translate(859.5,2044.3) scale(0.318,0.621) skewX(-8)" font-family="DejaVu Sans Light, DejaVu Sans, sans-serif" font-weight="200" font-size="100" fill="#0a0a0a" stroke="#0a0a0a" stroke-width="3.17" stroke-linejoin="round" vector-effect="non-scaling-stroke">X</text>
<g id="panel-2CGA">
<text transform="translate(24.9,1865.2) scale(0.556,1.263) skewX(-6)" font-family="DejaVu Sans Light, DejaVu Sans, sans-serif" font-weight="200" font-size="100" fill="#0a0a0a" stroke="#0a0a0a" stroke-width="1.70" stroke-linejoin="round" vector-effect="non-scaling-stroke">P</text>
<text transform="translate(55.6,1847.9) rotate(-6) scale(0.263,0.671) skewX(-6)" font-family="DejaVu Sans Light, DejaVu Sans, sans-serif" font-weight="200" font-size="100" fill="#0a0a0a" stroke="#0a0a0a" stroke-width="2.82" stroke-linejoin="round" vector-effect="non-scaling-stroke">ane</text>
<text transform="translate(104.1,1851.6) scale(1.507,1.298) skewX(-2)" font-family="DejaVu Sans Light, DejaVu Sans, sans-serif" font-weight="200" font-size="100" fill="#0a0a0a" stroke="#fff" stroke-width="1.64" vector-effect="non-scaling-stroke">l</text>
<text transform="translate(131.8,1840.5) rotate(-6) scale(0.461,0.919) skewX(-14)" font-family="DejaVu Sans Light, DejaVu Sans, sans-serif" font-weight="200" font-size="100" fill="#0a0a0a" stroke="#0a0a0a" stroke-width="2.13" stroke-linejoin="round" vector-effect="non-scaling-stroke">2CGA</text>
<text transform="translate(40.7,1955.3) rotate(-6) scale(0.609,0.658) skewX(-20)" font-family="DejaVu Sans Light, DejaVu Sans, sans-serif" font-weight="200" font-size="100" fill="#0a0a0a" stroke="#0a0a0a" stroke-width="1.46" stroke-linejoin="round" vector-effect="non-scaling-stroke">2-0-20</text>
<text transform="translate(239.4,1920.0) scale(0.519,0.895) skewX(-16)" font-family="DejaVu Sans Light, DejaVu Sans, sans-serif" font-weight="200" font-size="100" fill="#0a0a0a" stroke="#0a0a0a" stroke-width="2.06" stroke-linejoin="round" vector-effect="non-scaling-stroke">A</text>
<text transform="translate(32.3,2011.5) rotate(-4) scale(0.556,0.620) skewX(-20)" font-family="DejaVu Sans Light, DejaVu Sans, sans-serif" font-weight="200" font-size="100" fill="#0a0a0a" stroke="#0a0a0a" stroke-width="1.70" stroke-linejoin="round" vector-effect="non-scaling-stroke">6-0-20</text>
<text transform="translate(211.1,2000.0) scale(0.600,0.964) skewX(-18)" font-family="DejaVu Sans Light, DejaVu Sans, sans-serif" font-weight="200" font-size="100" fill="#0a0a0a" stroke="#0a0a0a" stroke-width="1.70" stroke-linejoin="round" vector-effect="non-scaling-stroke">A</text>
<text transform="translate(32.5,2082.8) rotate(-3) scale(0.557,0.682) skewX(-18)" font-family="DejaVu Sans Light, DejaVu Sans, sans-serif" font-weight="200" font-size="100" fill="#0a0a0a" stroke="#0a0a0a" stroke-width="1.69" stroke-linejoin="round" vector-effect="non-scaling-stroke">8-0-20</text>
<text transform="translate(217.9,2066.5) scale(0.665,0.917) skewX(-18)" font-family="DejaVu Sans Light, DejaVu Sans, sans-serif" font-weight="200" font-size="100" fill="#0a0a0a" stroke="#0a0a0a" stroke-width="1.41" stroke-linejoin="round" vector-effect="non-scaling-stroke">A</text>
<text transform="translate(17.6,2180.4) rotate(-5) scale(0.558,0.832) skewX(-20)" font-family="DejaVu Sans Light, DejaVu Sans, sans-serif" font-weight="200" font-size="100" fill="#0a0a0a" stroke="#0a0a0a" stroke-width="1.69" stroke-linejoin="round" vector-effect="non-scaling-stroke">4-0-20</text>
<text transform="translate(203.2,2150.5) scale(0.568,0.966) skewX(-16)" font-family="DejaVu Sans Light, DejaVu Sans, sans-serif" font-weight="200" font-size="100" fill="#0a0a0a" stroke="#0a0a0a" stroke-width="1.84" stroke-linejoin="round" vector-effect="non-scaling-stroke">A</text>
<text transform="translate(13.8,2248.6) rotate(-3) scale(0.551,0.754) skewX(-18)" font-family="DejaVu Sans Light, DejaVu Sans, sans-serif" font-weight="200" font-size="100" fill="#0a0a0a" stroke="#0a0a0a" stroke-width="1.72" stroke-linejoin="round" vector-effect="non-scaling-stroke">25-0-20</text>
<text transform="translate(228.2,2240.5) scale(0.568,0.993) skewX(-10)" font-family="DejaVu Sans Light, DejaVu Sans, sans-serif" font-weight="200" font-size="100" fill="#0a0a0a" stroke="#0a0a0a" stroke-width="1.84" stroke-linejoin="round" vector-effect="non-scaling-stroke">A</text>
</g>
<g id="panel-2CGB">
<text transform="translate(-5.9,2475.3) scale(0.572,1.566) skewX(-4)" font-family="DejaVu Sans Light, DejaVu Sans, sans-serif" font-weight="200" font-size="100" fill="#0a0a0a" stroke="#0a0a0a" stroke-width="1.63" stroke-linejoin="round" vector-effect="non-scaling-stroke">P</text>
<text transform="translate(22.8,2454.6) rotate(-3) scale(0.407,0.842) skewX(-6)" font-family="DejaVu Sans Light, DejaVu Sans, sans-serif" font-weight="200" font-size="100" fill="#0a0a0a" stroke="#0a0a0a" stroke-width="2.17" stroke-linejoin="round" vector-effect="non-scaling-stroke">ane</text>
<text transform="translate(97.4,2476.8) scale(1.206,1.523) skewX(7)" font-family="DejaVu Sans Light, DejaVu Sans, sans-serif" font-weight="200" font-size="100" fill="#0a0a0a" stroke="#fff" stroke-width="1.23" vector-effect="non-scaling-stroke">l</text>
<text transform="translate(136.4,2451.8) rotate(-7) scale(0.507,0.745) skewX(-18)" font-family="DejaVu Sans Light, DejaVu Sans, sans-serif" font-weight="200" font-size="100" fill="#0a0a0a" stroke="#0a0a0a" stroke-width="1.92" stroke-linejoin="round" vector-effect="non-scaling-stroke">2CGB</text>
<text transform="translate(-3.1,2589.6) rotate(-3) scale(0.533,0.738) skewX(-18)" font-family="DejaVu Sans Light, DejaVu Sans, sans-serif" font-weight="200" font-size="100" fill="#0a0a0a" stroke="#0a0a0a" stroke-width="1.80" stroke-linejoin="round" vector-effect="non-scaling-stroke">29-0-20</text>
<text transform="translate(201.1,2576.4) scale(0.600,0.869) skewX(-18)" font-family="DejaVu Sans Light, DejaVu Sans, sans-serif" font-weight="200" font-size="100" fill="#0a0a0a" stroke="#0a0a0a" stroke-width="1.70" stroke-linejoin="round" vector-effect="non-scaling-stroke">A</text>
</g>
</g>
<g id="floor-plan">
<g id="walls" fill="none" stroke-linecap="round" stroke-linejoin="round" filter="url(#pencil)">
<path d="M311.5 1334 L357.3 1334.4 M357.3 1240.7 L357.3 1335.4 M481.6 1242.2 L481.6 1331 M481.6 1329.5 L530 1327.3 L560 1327.4 L1100 1314.7 L1640 1303 L1644.5 1301.8 M1648.2 1218.7 L1644.3 1310.4 M1794.4 1224.4 L1791.5 1298 M1784.8 1299 L1916.7 1295.1" stroke="#101010" stroke-width="3"/>
<path d="M358.8 1242.9 C364 1239 370 1238 375.8 1238.5 C383 1239.5 389 1242 393.6 1245.9" stroke="#2a2a2a" stroke-width="2.6"/>
<path d="M393.6 1245.9 C399 1250 404 1254 408.4 1259.2 C413 1265 416 1271 418.7 1277 C421 1283 422.5 1290 423.2 1296.2 L425.4 1325.8" stroke="#777" stroke-width="2.4"/>
<path d="M481.6 1242.9 C481 1240 480 1238 477.9 1237.7 C472 1238 466 1241 460.2 1244.4 C453 1249 447 1254 440.9 1259.2 C435 1264 430 1269 426.1 1274 C423 1281 422 1289 421.7 1296.2 L423.9 1318.4" stroke="#8a8a8a" stroke-width="2.4"/>
<path d="M422 1290 L423.5 1322" stroke="#9a9a9a" stroke-width="4"/>
<path d="M1649 1221.5 C1654 1219 1660 1217.5 1666.3 1217.7 C1674 1219 1681 1222 1687.3 1226.3" stroke="#333" stroke-width="2.4"/>
<path d="M1687.3 1226.3 C1694 1230 1700 1235 1704.5 1239.7 C1708 1244 1710.5 1248 1712.2 1253.1 L1716 1270" stroke="#9a9a9a" stroke-width="2"/>
<path d="M1790.5 1212 C1786 1210 1781 1209.5 1775.3 1210 C1768 1212 1761 1216 1754.2 1220.6 C1748 1226 1742 1233 1737 1239.7 C1731 1247 1727 1254 1723.7 1260.7 C1721 1267 1719 1273 1717.9 1279.8" stroke="#6a6a6a" stroke-width="2.4"/>
<path d="M1915.6 1295 L1904.6 1544.5" stroke="#8a8a8a" stroke-width="1.8"/>
<path d="M1904.6 1544.5 L1817 1546" stroke="#3a3a3a" stroke-width="2"/>
<path d="M1817 1546 L1811.4 1740 L1809.6 1780 L1800 2100 L1793 2340 L1793 2391.6" stroke="#909090" stroke-width="1.8"/>
<path d="M1783 2392.6 L1879.6 2390.6 M1878 2390 L1876.3 2478 M1874.6 2603 L1874.6 2666" stroke="#8a8a8a" stroke-width="1.8"/>
<path d="M1874.6 2656 L1560 2664.6 L1300 2672 L1120 2675.7 L760 2686 L281.4 2701" stroke="#b4b4b4" stroke-width="1.8" stroke-dasharray="38 3 14 2"/>
<path d="M318.8 1334.7 L316 1580 L304.6 2060 L298.4 2250 L283.5 2701" stroke="#a2a2a2" stroke-width="1.8"/>
<path d="M283.5 2701 L278 2874" stroke="#e2e2e2" stroke-width="1.5"/>
</g>
<g id="receptacles" filter="url(#wobble)" fill="none" stroke="#0c0c0c" stroke-linecap="round" stroke-linejoin="round">
<path d="M661.7 1344.7 C661.5 1351.6 661.1 1372.6 660.8 1386.6 C660.5 1400.6 660.0 1421.5 659.8 1428.5" stroke-width="4.93"/><path d="M658.0 1369.3 C660.2 1369.0 667.0 1367.3 671.5 1367.5 C676.0 1367.7 682.4 1368.8 685.1 1370.6 C687.8 1372.3 688.6 1373.2 687.5 1378.0 C686.5 1382.7 682.8 1393.2 678.9 1398.9 C675.0 1404.7 669.1 1412.5 664.1 1412.5 C659.2 1412.5 652.2 1402.8 649.3 1398.9 C646.4 1395.0 645.8 1393.6 646.9 1389.1 C647.9 1384.5 654.0 1374.7 655.5 1371.8" stroke-width="4.48"/><path d="M655.5 1371.8 C653.0 1376.3 643.7 1392.7 640.7 1398.9 C637.7 1405.1 637.4 1404.9 637.6 1408.8 C637.8 1412.7 641.2 1420.1 641.9 1422.3" stroke-width="3.81"/>
<path d="M1037.4 1327.9 C1036.9 1334.8 1035.4 1353.1 1034.0 1369.2 C1032.6 1385.3 1029.9 1415.4 1029.1 1424.7" stroke-width="4.93"/><path d="M1034.0 1350.7 C1029.5 1350.7 1021.9 1356.2 1018.0 1361.8 C1014.0 1367.3 1010.8 1376.7 1010.6 1384.0 C1010.3 1391.3 1012.8 1403.9 1016.7 1405.6 C1020.6 1407.2 1029.1 1398.7 1034.0 1393.8 C1038.9 1389.0 1044.5 1381.9 1046.3 1376.6 C1048.2 1371.2 1047.1 1366.1 1045.1 1361.8 C1043.0 1357.5 1038.5 1350.7 1034.0 1350.7 Z" stroke-width="4.48"/><path d="M1024.1 1355.6 C1021.2 1358.3 1010.2 1366.9 1006.9 1371.7 C1003.5 1376.4 1003.9 1380.7 1003.8 1384.0 C1003.7 1387.3 1005.8 1390.1 1006.2 1391.4" stroke-width="3.58"/><path d="M1009.3 1336.5 L1016.1 1333.4" stroke-width="2.46"/>
<path d="M1326.6 1334.7 C1325.6 1340.9 1322.5 1359.7 1320.4 1372.3 C1318.4 1384.8 1315.3 1403.6 1314.3 1409.9" stroke-width="4.70"/><path d="M1338.9 1334.0 C1338.0 1340.5 1335.2 1360.0 1333.4 1372.9 C1331.5 1385.7 1328.7 1404.7 1327.8 1411.1" stroke-width="4.70"/><path d="M1326.6 1334.7 C1327.6 1336.7 1330.7 1347.1 1332.7 1347.0 C1334.8 1346.9 1337.9 1336.2 1338.9 1334.0" stroke-width="3.81"/><path d="M1332.7 1350.7 C1328.2 1352.1 1317.1 1357.5 1313.0 1361.8 C1308.9 1366.1 1307.9 1371.0 1308.1 1376.6 C1308.3 1382.1 1309.9 1392.8 1314.3 1395.1 C1318.6 1397.3 1327.0 1393.0 1334.0 1390.1 C1341.0 1387.3 1353.3 1382.1 1356.2 1377.8 C1359.1 1373.5 1353.9 1368.4 1351.2 1364.3 C1348.6 1360.1 1343.2 1355.4 1340.1 1353.2 C1337.1 1350.9 1337.3 1349.3 1332.7 1350.7 Z" stroke-width="4.48"/><path d="M1321.7 1356.9 C1320.0 1360.6 1312.4 1372.9 1311.8 1379.1 C1311.2 1385.2 1316.9 1391.4 1318.0 1393.8" stroke-width="3.36"/><path d="M1371.6 1350.1 L1381.5 1348.2" stroke-width="2.91"/>
<path d="M1575.8 1322.3 C1575.1 1329.3 1573.0 1350.3 1571.5 1364.3 C1570.1 1378.2 1567.9 1399.2 1567.2 1406.2" stroke-width="4.70"/><path d="M1574.0 1340.8 C1578.7 1338.8 1588.1 1337.3 1592.5 1338.4 C1596.9 1339.4 1600.3 1342.9 1600.5 1347.0 C1600.7 1351.1 1597.3 1357.9 1593.7 1363.0 C1590.1 1368.2 1583.4 1374.3 1578.9 1377.8 C1574.4 1381.3 1570.3 1383.6 1566.6 1384.0 C1562.9 1384.4 1558.6 1382.7 1556.7 1380.3 C1554.9 1377.8 1554.3 1374.1 1555.5 1369.2 C1556.7 1364.3 1561.0 1355.4 1564.1 1350.7 C1567.2 1346.0 1569.3 1342.9 1574.0 1340.8 Z" stroke-width="4.48"/><path d="M1564.1 1350.7 C1561.7 1353.6 1552.9 1361.2 1549.3 1368.0 C1545.7 1374.7 1543.7 1387.5 1542.5 1391.4" stroke-width="3.36"/>
<path d="M1834.1 1417.0 C1839.3 1416.7 1855.1 1415.3 1865.5 1415.1 C1875.9 1414.9 1891.2 1415.7 1896.3 1415.8" stroke-width="4.26"/><path d="M1841.5 1427.5 C1845.7 1427.2 1858.4 1426.0 1866.7 1425.6 C1875.1 1425.2 1887.3 1425.1 1891.4 1425.0" stroke-width="4.26"/><path d="M1848.2 1415.8 C1850.3 1414.7 1855.8 1409.6 1860.6 1409.6 C1865.3 1409.6 1873.9 1414.7 1876.6 1415.8" stroke-width="4.03"/><path d="M1848.2 1428.1 C1850.5 1429.9 1857.9 1437.7 1861.8 1439.2 C1865.7 1440.6 1868.6 1438.6 1871.7 1436.7 C1874.7 1434.9 1878.9 1429.5 1880.3 1428.1" stroke-width="4.03"/>
<path d="M1730.2 1645.1 C1733.4 1644.7 1742.0 1642.4 1749.3 1642.7 C1756.6 1643.0 1764.7 1646.4 1774.0 1647.0 C1783.2 1647.6 1799.7 1646.5 1804.8 1646.4" stroke-width="4.70"/><path d="M1735.8 1663.0 C1741.5 1662.6 1758.7 1661.2 1770.3 1660.6 C1781.9 1659.9 1799.6 1659.5 1805.4 1659.3" stroke-width="4.48"/><path d="M1748.1 1648.2 C1750.3 1647.8 1755.5 1645.3 1761.7 1645.5 C1767.8 1645.7 1781.2 1648.8 1785.1 1649.5" stroke-width="3.81"/><path d="M1745.6 1663.0 C1747.9 1664.9 1754.7 1671.8 1759.2 1674.1 C1763.7 1676.5 1768.6 1677.4 1772.7 1677.2 C1776.9 1677.0 1781.6 1675.9 1783.8 1672.9 C1786.1 1669.9 1785.9 1661.6 1786.3 1659.3" stroke-width="4.26"/>
<path d="M1735.0 1836.5 L1790.5 1834.7 L1757.2 1861.2 Z" stroke-width="5.60"/><path d="M1749.2 1847.0 L1776.3 1836.5" stroke-width="4.03"/><path d="M1754.1 1856.9 L1776.3 1839.6" stroke-width="4.03"/><path d="M1773.2 1890.8 L1776.9 1895.1" stroke-width="2.24"/>
<path d="M1708.5 1916.7 C1715.3 1916.8 1735.6 1917.1 1749.2 1917.5 C1762.7 1917.9 1783.1 1918.9 1789.9 1919.1" stroke-width="4.48"/><path d="M1706.6 1928.4 C1713.1 1928.4 1732.3 1928.4 1745.5 1928.6 C1758.6 1928.8 1778.9 1929.4 1785.6 1929.6" stroke-width="4.48"/><path d="M1727.0 1918.5 C1727.8 1915.8 1728.2 1909.9 1730.7 1907.4 C1733.2 1904.9 1737.9 1903.1 1741.8 1903.7 C1745.7 1904.3 1750.4 1907.8 1754.1 1911.1 C1757.8 1914.4 1761.5 1918.9 1764.0 1923.4 C1766.4 1928.0 1768.9 1934.3 1768.9 1938.2 C1768.9 1942.1 1766.4 1944.7 1764.0 1946.9 C1761.5 1949.0 1757.8 1951.6 1754.1 1951.2 C1750.4 1950.8 1745.7 1947.4 1741.8 1944.4 C1737.9 1941.4 1733.4 1936.8 1730.7 1933.3 C1728.0 1929.8 1726.4 1925.9 1725.8 1923.4 C1725.1 1921.0 1726.2 1921.2 1727.0 1918.5 Z" stroke-width="4.48"/>
<path d="M1709.1 2018.2 C1715.2 2018.3 1733.6 2018.3 1745.5 2018.5 C1757.4 2018.7 1776.5 2019.9 1780.6 2019.5 C1784.7 2019.0 1771.9 2016.4 1770.1 2015.8" stroke-width="4.48"/><path d="M1711.0 2029.3 C1716.7 2029.4 1734.0 2029.6 1745.5 2029.9 C1757.0 2030.2 1774.3 2031.0 1780.0 2031.2" stroke-width="4.48"/><path d="M1714.7 2010.8 C1716.9 2009.5 1723.1 2003.0 1728.2 2002.8 C1733.4 2002.6 1740.8 2006.4 1745.5 2009.6 C1750.2 2012.8 1754.6 2017.2 1756.6 2021.9 C1758.5 2026.7 1758.0 2033.0 1757.2 2038.0 C1756.4 2042.9 1753.6 2048.6 1751.7 2051.5 C1749.7 2054.4 1748.0 2056.4 1745.5 2055.2 C1743.0 2054.0 1739.5 2048.4 1736.9 2044.1 C1734.2 2039.8 1731.1 2033.2 1729.5 2029.3 C1727.8 2025.4 1727.4 2022.1 1727.0 2020.7" stroke-width="4.48"/>
<path d="M1700.3 2300.2 C1706.4 2300.1 1724.7 2299.6 1736.7 2299.6 C1748.7 2299.6 1766.5 2300.1 1772.5 2300.2" stroke-width="4.48"/><path d="M1703.4 2312.5 C1709.0 2312.4 1725.6 2311.9 1736.7 2311.9 C1747.8 2311.9 1764.5 2312.4 1770.0 2312.5" stroke-width="4.48"/><path d="M1712.1 2302.1 C1714.7 2300.0 1724.0 2296.0 1729.3 2294.7 C1734.7 2293.3 1740.0 2293.0 1744.1 2294.0 C1748.2 2295.1 1751.5 2297.8 1754.0 2300.8 C1756.4 2303.8 1758.5 2308.4 1758.9 2311.9 C1759.3 2315.4 1758.3 2319.3 1756.4 2321.8 C1754.6 2324.3 1751.3 2326.3 1747.8 2326.7 C1744.3 2327.1 1739.8 2326.1 1735.5 2324.3 C1731.2 2322.4 1725.6 2318.5 1721.9 2315.6 C1718.2 2312.7 1714.9 2309.3 1713.3 2307.0 C1711.6 2304.7 1709.4 2304.1 1712.1 2302.1 Z" stroke-width="4.48"/>
<path d="M1790.0 2430.1 C1795.8 2430.1 1812.8 2429.9 1824.5 2430.1 C1836.3 2430.3 1854.3 2431.1 1860.3 2431.3" stroke-width="4.26"/><path d="M1792.5 2440.6 C1798.0 2440.7 1814.7 2440.8 1825.8 2441.2 C1836.9 2441.6 1853.5 2442.7 1859.1 2443.0" stroke-width="4.26"/><path d="M1801.1 2430.7 C1802.5 2428.0 1809.7 2424.9 1813.4 2423.3 C1817.1 2421.6 1819.6 2420.4 1823.3 2420.8 C1827.0 2421.2 1831.5 2423.5 1835.6 2425.8 C1839.7 2428.0 1844.9 2431.3 1848.0 2434.4 C1851.0 2437.5 1853.3 2441.2 1854.1 2444.3 C1855.0 2447.3 1854.3 2450.6 1852.9 2452.9 C1851.5 2455.1 1849.2 2457.2 1845.5 2457.8 C1841.8 2458.4 1835.6 2457.8 1830.7 2456.6 C1825.8 2455.4 1820.2 2453.3 1815.9 2450.4 C1811.6 2447.5 1807.3 2442.6 1804.8 2439.3 C1802.3 2436.0 1799.7 2433.4 1801.1 2430.7 Z" stroke-width="4.26"/><path d="M1812.2 2416.5 C1814.9 2417.4 1823.7 2419.7 1828.2 2422.1 C1832.8 2424.4 1837.3 2427.8 1839.3 2430.7 C1841.4 2433.6 1840.4 2437.9 1840.6 2439.3" stroke-width="5.15"/>
<path d="M912.1 2590.2 C911.4 2597.1 909.2 2617.9 907.8 2631.5 C906.5 2645.2 904.7 2665.4 904.1 2672.2" stroke-width="5.15"/><path d="M909.1 2610.6 C906.4 2612.0 897.1 2614.9 893.0 2619.2 C888.9 2623.5 885.0 2631.1 884.4 2636.4 C883.8 2641.8 887.7 2648.4 889.3 2651.2 C891.0 2654.1 893.4 2653.3 894.3 2653.7" stroke-width="4.48"/><path d="M914.0 2609.3 C915.4 2610.8 921.8 2613.8 922.6 2618.0 C923.4 2622.1 921.2 2628.4 918.9 2634.0 C916.7 2639.5 910.7 2648.4 909.1 2651.2" stroke-width="4.48"/>
<path d="M1232.7 2564.1 C1232.2 2573.0 1230.6 2599.7 1229.7 2617.1 C1228.7 2634.6 1227.6 2660.3 1227.2 2668.9" stroke-width="5.15"/><path d="M1245.1 2591.2 C1245.9 2593.5 1249.8 2599.5 1250.0 2604.8 C1250.2 2610.2 1248.6 2617.6 1246.3 2623.3 C1244.1 2629.1 1239.3 2636.3 1236.4 2639.3 C1233.6 2642.4 1230.3 2641.4 1229.1 2641.8" stroke-width="4.48"/><path d="M1224.1 2606.0 C1222.5 2608.1 1216.1 2614.5 1214.3 2618.4 C1212.4 2622.3 1211.8 2626.6 1213.0 2629.5 C1214.3 2632.3 1219.0 2634.2 1221.7 2635.6 C1224.3 2637.1 1227.8 2637.7 1229.1 2638.1" stroke-width="4.48"/><path d="M1236.4 2613.4 L1230.3 2630.7" stroke-width="2.91"/>
<path d="M1573.4 2573.3 C1574.0 2580.1 1575.7 2600.4 1577.1 2614.0 C1578.4 2627.6 1580.7 2647.9 1581.4 2654.7" stroke-width="4.70"/><path d="M1588.2 2567.1 C1588.6 2574.7 1589.7 2597.6 1590.6 2612.8 C1591.6 2628.0 1593.2 2650.8 1593.7 2658.4" stroke-width="4.70"/><path d="M1582.6 2622.6 C1584.9 2622.2 1595.8 2618.1 1596.2 2620.2 C1596.6 2622.2 1585.1 2632.1 1585.1 2635.0 C1585.1 2637.8 1596.0 2635.4 1596.2 2637.4 C1596.4 2639.5 1586.5 2644.8 1586.3 2647.3 C1586.1 2649.8 1593.5 2651.4 1594.9 2652.2" stroke-width="4.70"/><path d="M1588.2 2591.8 C1589.9 2592.2 1596.3 2591.6 1598.6 2594.3 C1601.0 2596.9 1602.5 2603.5 1602.3 2607.8 C1602.1 2612.1 1598.2 2618.1 1597.4 2620.2" stroke-width="4.03"/><path d="M1564.1 2609.1 C1562.9 2610.8 1556.1 2616.4 1556.7 2619.5 C1557.3 2622.7 1566.0 2626.7 1567.8 2628.2" stroke-width="3.81"/><path d="M1570.3 2601.7 L1578.9 2599.8" stroke-width="2.69"/>
</g>
<g id="floor-box" stroke="#0c0c0c" stroke-width="3.3" fill="none" stroke-linecap="round" stroke-linejoin="round"><path d="M894 2011 C920 2009 960 2010 975 2010.5 Q981 2011 981 2017 L981 2042 Q981 2049 973 2049 C950 2051 915 2050 899 2049 Q888 2047 888 2040 L889 2018 Q889 2011 894 2011 Z"/><path d="M890 2024 L978 2023 M897 2029.5 L977 2037"/><ellipse cx="937" cy="2026.6" rx="19" ry="13.5"/><path d="M915 2012 C918 2030 930 2044 940 2048 M937 2020 C944 2015 952 2018 955 2026"/><path d="M979 2009 L980.5 2043 M965 2023.6 L986.5 2021.4"/><path d="M981.3 2040.6 C984 2048 984 2056 980 2062 C977 2066 974 2068 972.4 2071.7" stroke-width="2"/></g>
<path d="M20 1881 C80 1872 150 1858 203 1844.7" stroke="#0c0c0c" stroke-width="3.8" fill="none" stroke-linecap="round"/>
<path d="M0 2494.5 C40 2492 80 2484 116.5 2473 C150 2470 180 2466 200 2459.5 C215 2455 230 2450 241 2444.5" stroke="#0c0c0c" stroke-width="3" fill="none" stroke-linecap="round"/>
<path d="M160 2458 C175 2468 200 2462 212 2452" stroke="#0c0c0c" stroke-width="2.4" fill="none" stroke-linecap="round"/>
<path d="M1545 2203 C1556 2200 1566 2208 1581 2209" stroke="#9a9a9a" stroke-width="2" fill="none"/>
</g>
</svg>
</body>
</html>
